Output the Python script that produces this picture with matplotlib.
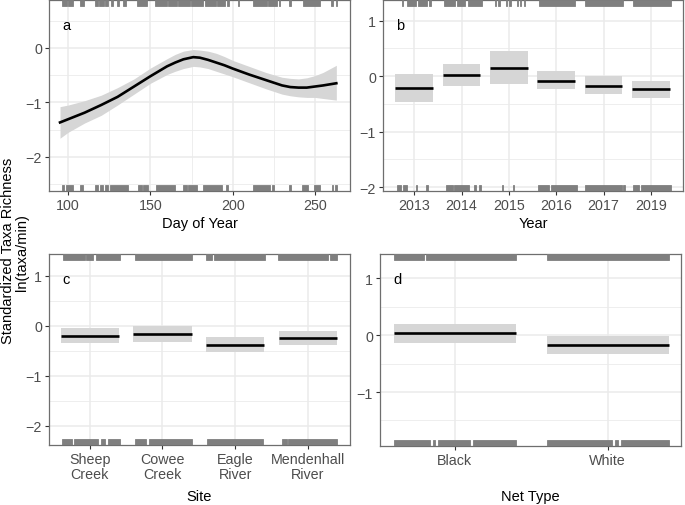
import matplotlib
matplotlib.use("Agg")
import matplotlib.pyplot as plt
from matplotlib.ticker import FixedLocator

plt.rcParams['font.family'] = ['Liberation Sans', 'DejaVu Sans']

# panel a: day of year smooth
day = [95, 100, 110, 120, 130, 140, 150, 160, 165, 170, 176, 180, 185, 190, 195, 200, 210, 220,
       230, 235, 240, 245, 250, 255, 263]
day_fit = [-1.37, -1.31, -1.19, -1.05, -0.90, -0.71, -0.52, -0.34, -0.27, -0.21, -0.17, -0.18,
           -0.22, -0.27, -0.32, -0.38, -0.49, -0.59, -0.69, -0.72, -0.73, -0.73, -0.71, -0.69, -0.65]
day_hi = [-1.08, -1.05, -0.97, -0.87, -0.73, -0.57, -0.37, -0.20, -0.12, -0.06, -0.03, -0.04,
          -0.06, -0.10, -0.16, -0.23, -0.34, -0.45, -0.54, -0.56, -0.57, -0.55, -0.51, -0.45, -0.32]
day_lo = [-1.66, -1.55, -1.38, -1.24, -1.05, -0.85, -0.65, -0.49, -0.43, -0.38, -0.34, -0.35,
          -0.38, -0.43, -0.48, -0.53, -0.64, -0.75, -0.85, -0.88, -0.90, -0.91, -0.91, -0.93, -0.96]
rug_a_top = [(96, 99), (100, 103), (107, 109.5), (116, 118), (119, 121.5), (122.5, 124), (126, 127),
             (129.5, 131), (133, 135), (141.5, 148), (152.5, 160), (160.7, 166), (167, 174),
             (174.7, 182), (183, 190), (190.7, 195.5), (196.5, 197.5), (203, 203.8), (212.5, 221),
             (221.7, 227), (228, 228.6), (234, 235.5), (243, 253), (260, 261), (262.5, 263.5)]
rug_a_bot = [(96, 97.4), (98.6, 103), (107, 109), (116.2, 118.2), (119.3, 121.3), (122.3, 124.3),
             (125.4, 136.5), (142.6, 144.6), (145.6, 148.7), (153.4, 165), (170, 172), (173, 178),
             (181.7, 193.3), (195.7, 197.3), (212.5, 222.6), (224, 225), (234.4, 235.3),
             (242.3, 246), (249.4, 253.1), (260.2, 261.2), (262.2, 263.6)]

# panel b: year
years = ['2013', '2014', '2015', '2016', '2017', '2019']
year_fit = [-0.22, 0.02, 0.15, -0.08, -0.17, -0.24]
year_hi = [0.03, 0.21, 0.45, 0.09, 0.00, -0.08]
year_lo = [-0.47, -0.17, -0.14, -0.23, -0.32, -0.39]
rug_b_top = [(0.74, 0.76), (0.85, 1.04), (1.09, 1.27), (1.32, 1.36), (1.62, 1.87), (1.90, 2.08),
             (2.13, 2.43), (2.70, 2.73), (2.78, 2.81), (2.94, 2.97), (3.01, 3.04), (3.17, 3.19),
             (3.24, 3.26), (3.32, 3.35), (3.63, 4.40), (4.61, 5.42), (5.62, 6.43)]
rug_b_bot = [(0.63, 0.73), (0.76, 0.85), (1.04, 1.06), (1.25, 1.30), (1.68, 1.81), (1.83, 2.16),
             (2.27, 2.30), (2.37, 2.42), (2.85, 2.88), (3.09, 3.11), (3.61, 3.85), (3.89, 4.44),
             (4.61, 5.39), (5.42, 5.46), (5.62, 5.74), (5.80, 6.43)]

# panel c: site
sites = ['Sheep\nCreek', 'Cowee\nCreek', 'Eagle\nRiver', 'Mendenhall\nRiver']
site_fit = [-0.21, -0.17, -0.39, -0.25]
site_hi = [-0.05, -0.01, -0.23, -0.11]
site_lo = [-0.35, -0.32, -0.53, -0.39]
rug_c_top = [(0.63, 0.93), (0.95, 1.05), (1.08, 1.41), (1.62, 2.41), (2.60, 2.68), (2.71, 3.41),
             (3.59, 4.28), (4.31, 4.40)]
rug_c_bot = [(0.62, 0.75), (0.79, 1.11), (1.16, 1.21), (1.25, 1.42), (1.62, 1.78), (1.82, 2.41),
             (2.62, 3.39), (3.65, 3.72), (3.73, 4.40)]

# panel d: net type
nets = ['Black', 'White']
net_fit = [0.04, -0.18]
net_hi = [0.19, -0.02]
net_lo = [-0.13, -0.33]
rug_d_top = [(0.60, 0.80), (0.81, 1.40), (1.60, 2.40)]
rug_d_bot = [(0.60, 0.84), (0.86, 0.87), (0.89, 1.10), (1.12, 1.40), (1.60, 2.03), (2.05, 2.07),
             (2.09, 2.40)]

band_col = '#d6d6d6'
rug_col = '#7f7f7f'
grid_col = '#ebebeb'

W, H = 685, 506
fig = plt.figure(figsize=(W / 100, H / 100), dpi=100)


def make_ax(l, t, r, b):
    return fig.add_axes([l / W, (H - b) / H, (r - l) / W, (b - t) / H])


def style(ax, xmaj, xmin, ymaj, ymin, top_spine=True):
    ax.xaxis.set_major_locator(FixedLocator(xmaj))
    ax.xaxis.set_minor_locator(FixedLocator(xmin))
    ax.yaxis.set_major_locator(FixedLocator(ymaj))
    ax.yaxis.set_minor_locator(FixedLocator(ymin))
    ax.grid(True, which='major', color=grid_col, lw=1.1, zorder=0)
    ax.grid(True, which='minor', color=grid_col, lw=0.6, zorder=0)
    ax.set_axisbelow(True)
    ax.tick_params(which='major', length=3, width=0.8, color='#333333',
                   labelsize=10.3, labelcolor='#4d4d4d', pad=2)
    ax.tick_params(which='minor', length=0)
    for s in ax.spines.values():
        s.set_color('#6e6e6e')
        s.set_linewidth(0.9)
    if not top_spine:
        ax.spines['top'].set_visible(False)


def rug(ax, top, bot):
    for x0, x1 in top:
        ax.axvspan(x0, x1, ymin=0.97, ymax=1.0, color=rug_col, lw=0.6, zorder=5)
    for x0, x1 in bot:
        ax.axvspan(x0, x1, ymin=0.0, ymax=0.03, color=rug_col, lw=0.6, zorder=5)


def factor_panel(ax, fit, lo, hi):
    for i in range(len(fit)):
        p = i + 1
        ax.fill_between([p - 0.4, p + 0.4], lo[i], hi[i], color=band_col, lw=0, zorder=2)
        ax.hlines(fit[i], p - 0.4, p + 0.4, color='black', lw=1.9, zorder=3)


def panel_label(ax, s):
    ax.text(0.045, 0.87, s, transform=ax.transAxes, fontsize=10.5, va='center', ha='left')


# a
ax = make_ax(49, 1, 350, 192)
ax.fill_between(day, day_lo, day_hi, color=band_col, lw=0, zorder=2)
ax.plot(day, day_fit, color='black', lw=1.9, zorder=3, solid_joinstyle='round')
rug(ax, rug_a_top, rug_a_bot)
ax.set_xlim(88.3, 271.3)
ax.set_ylim(-2.63, 0.88)
style(ax, [100, 150, 200, 250], [125, 175, 225], [-2, -1, 0], [-2.5, -1.5, -0.5, 0.5])
ax.set_xlabel('Day of Year', fontsize=10.5)
ax.xaxis.set_label_coords(0.5, -0.165)
ax.xaxis.label.set_va('center')
panel_label(ax, 'a')

# b
ax = make_ax(383, 1, 683, 192)
factor_panel(ax, year_fit, year_lo, year_hi)
rug(ax, rug_b_top, rug_b_bot)
ax.set_xlim(0.34, 6.68)
ax.set_ylim(-2.07, 1.37)
style(ax, range(1, len(years) + 1), [], [-2, -1, 0, 1], [-1.5, -0.5, 0.5])
ax.set_xticklabels(years)
ax.set_xlabel('Year', fontsize=10.5)
ax.xaxis.set_label_coords(0.5, -0.165)
ax.xaxis.label.set_va('center')
panel_label(ax, 'b')

# c
ax = make_ax(49, 255, 350, 446)
factor_panel(ax, site_fit, site_lo, site_hi)
rug(ax, rug_c_top, rug_c_bot)
ax.set_xlim(0.44, 4.58)
ax.set_ylim(-2.38, 1.43)
style(ax, range(1, len(sites) + 1), [], [-2, -1, 0, 1], [-1.5, -0.5, 0.5])
ax.set_xticklabels(sites, linespacing=1.1)
ax.set_xlabel('Site', fontsize=10.5)
ax.xaxis.set_label_coords(0.5, -0.265)
ax.xaxis.label.set_va('center')
panel_label(ax, 'c')

# d
ax = make_ax(380, 255, 681, 447)
factor_panel(ax, net_fit, net_lo, net_hi)
rug(ax, rug_d_top, rug_d_bot)
ax.set_xlim(0.51, 2.48)
ax.set_ylim(-1.95, 1.43)
style(ax, range(1, len(nets) + 1), [], [-1, 0, 1], [-1.5, -0.5, 0.5])
ax.set_xticklabels(nets)
ax.set_xlabel('Net Type', fontsize=10.5)
ax.xaxis.set_label_coords(0.5, -0.26)
ax.xaxis.label.set_va('center')
panel_label(ax, 'd')

# shared y title, two lines placed separately
fig.text(8 / W, 1 - 251 / H, 'Standardized Taxa Richness', rotation=90,
         ha='center', va='center', fontsize=10.5)
fig.text(22 / W, 1 - 253 / H, 'ln(taxa/min)', rotation=90,
         ha='center', va='center', fontsize=10.5)

fig.savefig('out.png', dpi=100)
